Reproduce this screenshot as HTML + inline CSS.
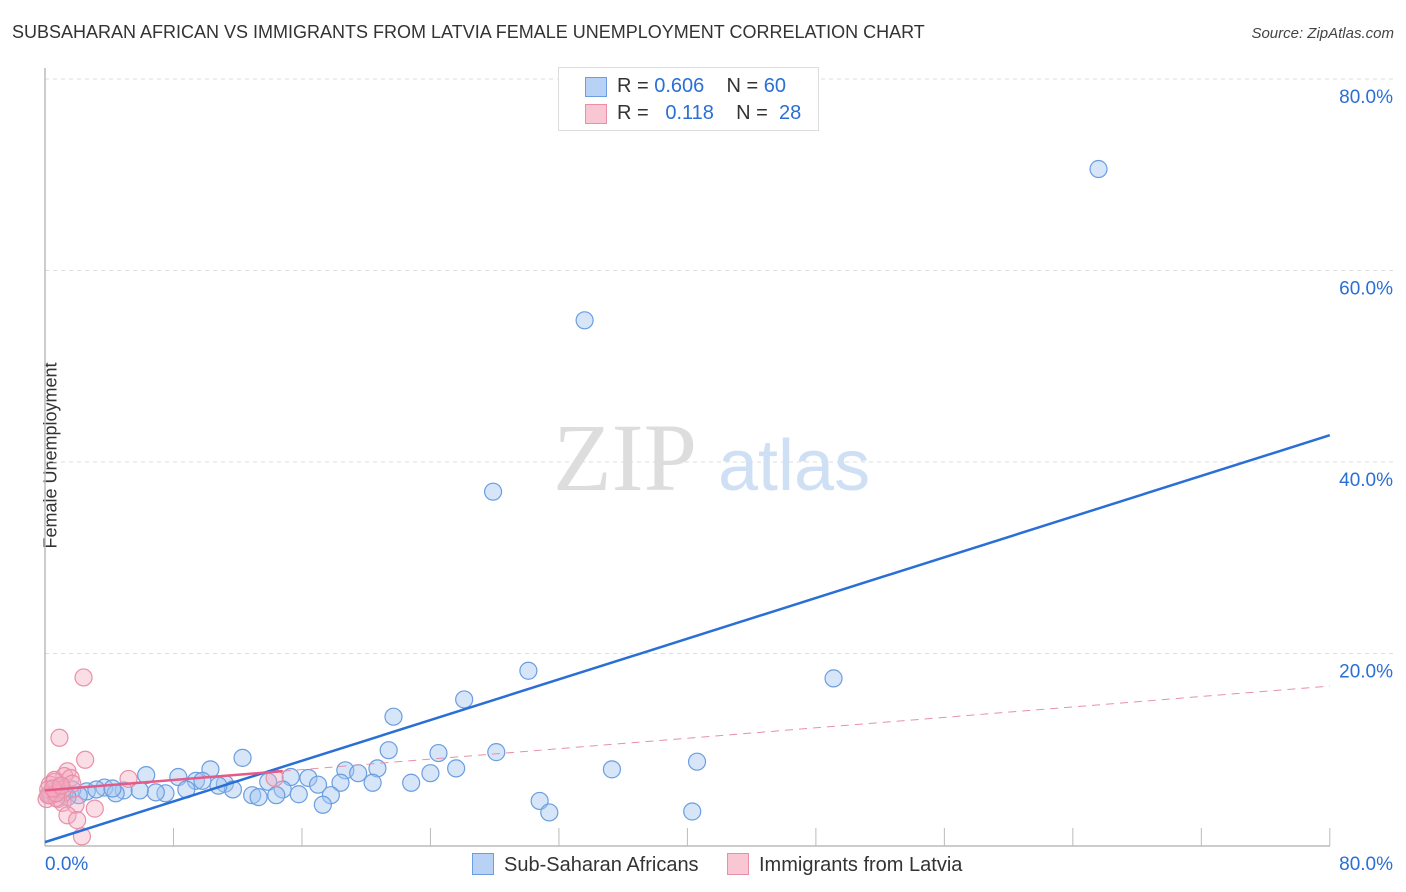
<!DOCTYPE html>
<html><head><meta charset="utf-8"><style>
body{margin:0;background:#fff;font-family:"Liberation Sans",sans-serif;}
#wrap{position:relative;width:1406px;height:892px;overflow:hidden;}
.t{position:absolute;white-space:nowrap;}
</style></head><body><div id="wrap">
<div class="t" style="left:12px;top:22px;font-size:18px;color:#333;">SUBSAHARAN AFRICAN VS IMMIGRANTS FROM LATVIA FEMALE UNEMPLOYMENT CORRELATION CHART</div>
<div class="t" style="right:12px;top:25px;font-size:15px;color:#444;font-style:italic;">Source: ZipAtlas.com</div>
<div class="t" style="left:-42px;top:445px;font-size:18px;color:#333;transform:rotate(-90deg);">Female Unemployment</div>
<svg id="svg" width="1406" height="892" style="position:absolute;left:0;top:0"></svg>
<div style="position:absolute;left:558px;top:67px;width:259px;height:62px;border:1px solid #ddd;background:#fff;font-size:20px;">
<div style="position:absolute;left:26px;top:9px;width:20px;height:18px;background:#b8d2f5;border:1px solid #6a9ee0;"></div>
<div class="t" style="left:58px;top:7px;color:#333;">R = <span style="color:#2a6fd6">0.606</span>&nbsp;&nbsp;&nbsp; N = <span style="color:#2a6fd6">60</span></div>
<div style="position:absolute;left:26px;top:36px;width:20px;height:18px;background:#f9c6d4;border:1px solid #e890a8;"></div>
<div class="t" style="left:58px;top:34px;color:#333;">R = &nbsp;&nbsp;<span style="color:#2a6fd6">0.118</span>&nbsp;&nbsp;&nbsp; N = &nbsp;<span style="color:#2a6fd6">28</span></div>
</div>
<div style="position:absolute;left:472px;top:853px;font-size:20px;color:#333;"><span style="display:inline-block;width:20px;height:20px;background:#b8d2f5;border:1px solid #6a9ee0;vertical-align:-4px;margin-right:10px"></span>Sub-Saharan Africans</div>
<div style="position:absolute;left:727px;top:853px;font-size:20px;color:#333;"><span style="display:inline-block;width:20px;height:20px;background:#f9c6d4;border:1px solid #e890a8;vertical-align:-4px;margin-right:10px"></span>Immigrants from Latvia</div>
</div>
<script>
const yTicks=[20,40,60,80];
const yTickLabels=["20.0%","40.0%","60.0%","80.0%"];
const blueX=[65.6,33.6,27.9,30.1,49.1,26.1,21.7,12.3,21.4,24.5,28.1,40.6,35.3,25.6,24.0,20.7,18.7,19.5,10.3,6.3,8.3,15.3,16.4,13.9,11.2,9.4,18.4,20.4,22.8,17.0,14.8,11.7,15.8,17.8,14.4,12.9,13.3,8.8,7.5,6.9,4.9,3.7,2.6,1.7,1.2,0.9,0.6,0.3,5.9,4.4,3.2,2.1,30.8,31.4,17.3,40.3,10.8,9.8,1.4,4.2];
const blueY=[70.6,54.8,36.9,18.2,17.4,15.2,13.4,9.1,9.9,9.6,9.7,8.7,7.9,8.0,7.5,8.0,7.8,7.5,7.9,7.3,7.1,7.1,7.0,6.6,6.4,6.7,6.5,6.5,6.5,6.3,5.8,5.8,5.3,5.2,5.2,5.2,5.0,5.8,5.4,5.5,5.7,6.0,5.6,5.8,5.5,6.0,5.7,5.2,5.7,5.4,5.8,5.2,4.6,3.4,4.2,3.5,6.2,6.7,5.0,5.9];
const pinkX=[2.4,0.9,2.5,5.2,14.3,1.4,1.2,1.6,0.6,0.3,0.2,0.4,0.8,0.1,1.1,0.7,1.9,3.1,1.4,2.0,2.3,0.6,1.1,0.2,0.7,1.7,0.5,1.0];
const pinkY=[17.5,11.2,8.9,6.9,7.0,7.7,7.2,7.0,6.8,6.3,5.8,5.2,4.8,4.8,4.4,4.9,4.2,3.8,3.1,2.6,0.9,6.6,5.8,5.2,5.4,6.4,5.9,6.2];
const blueTrend=[0.3,42.8];
const pinkTrend=[5.7,16.6];
const X=v=>45+v*16.06, Y=v=>845-v*9.575;
const s=document.getElementById('svg');const NS="http://www.w3.org/2000/svg";
function mk(t,a){const e=document.createElementNS(NS,t);for(const k in a)e.setAttribute(k,a[k]);s.appendChild(e);return e;}
yTicks.forEach((t,i)=>{
const g=mk('line',{x1:45,x2:1395,y1:Y(t),y2:Y(t),stroke:'#ddd','stroke-dasharray':'4,4'});


const l=mk('text',{x:1393,y:Y(t)+24,'text-anchor':'end','font-size':19,fill:'#2a6fd6','font-family':'Liberation Sans'});
l.textContent=yTickLabels[i];


});
const ax=mk('line',{x1:45,x2:45,y1:68,y2:846,stroke:'#bbb','stroke-width':1.5});


const bx=mk('line',{x1:45,x2:1330,y1:846,y2:846,stroke:'#bbb','stroke-width':1.5});


for(let i=1;i<=10;i++){const tk=mk('line',{x1:X(i*8),x2:X(i*8),y1:828,y2:846,stroke:'#bbb'});

}
[["0.0%",45,'start'],["80.0%",1393,'end']].forEach(a=>{const t=mk('text',{x:a[1],y:870,'text-anchor':a[2],'font-size':19,fill:'#2a6fd6','font-family':'Liberation Sans'});t.textContent=a[0];

});
const wm=mk('text',{x:553,y:490,'font-size':96,fill:'#ddd','font-family':'Liberation Serif'});wm.textContent='ZIP';


const wm2=mk('text',{x:718,y:490,'font-size':72,fill:'#cfe0f5','font-family':'Liberation Sans'});wm2.textContent='atlas';


blueX.forEach((x,i)=>{const c=mk('circle',{cx:X(x),cy:Y(blueY[i]),r:8.5,fill:'rgba(165,198,240,0.45)',stroke:'#6a9ee0','stroke-width':1.2});

});
pinkX.forEach((x,i)=>{const c=mk('circle',{cx:X(x),cy:Y(pinkY[i]),r:8.5,fill:'rgba(245,170,192,0.4)',stroke:'#e890a8','stroke-width':1.2});

});
const bl=mk('line',{x1:X(0),y1:Y(blueTrend[0]),x2:X(80),y2:Y(blueTrend[1]),stroke:'#2a6fd6','stroke-width':2.5});


const pf=v=>pinkTrend[0]+(pinkTrend[1]-pinkTrend[0])*v/80;
const pl=mk('line',{x1:X(0),y1:Y(pf(0)),x2:X(14.8),y2:Y(pf(14.8)),stroke:'#e55a88','stroke-width':2.5});


const pd=mk('line',{x1:X(14.8),y1:Y(pf(14.8)),x2:X(80),y2:Y(pf(80)),stroke:'#e890a8','stroke-width':1,'stroke-dasharray':'8,6'});


</script></body></html>
